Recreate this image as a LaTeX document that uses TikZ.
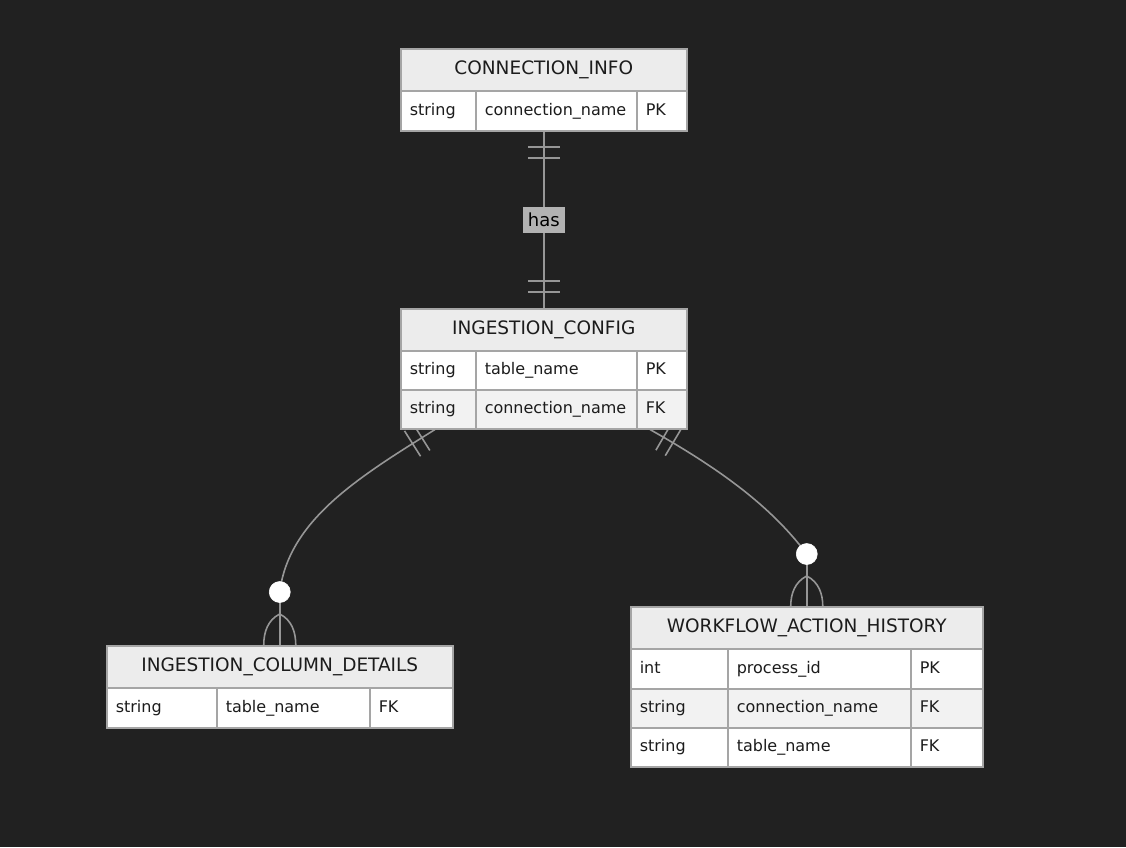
\documentclass[tikz,border=0pt]{standalone}
\usepackage{fontspec}
\setmainfont{DejaVu Sans}
\usetikzlibrary{decorations.markings,calc}

\definecolor{canvas}{RGB}{33,33,33}
\definecolor{hdrfill}{RGB}{236,236,236}
\definecolor{rowodd}{RGB}{255,255,255}
\definecolor{roweven}{RGB}{242,242,242}
\definecolor{boxline}{RGB}{165,165,165}
\definecolor{wire}{RGB}{150,150,150}
\definecolor{ink}{RGB}{28,28,28}
\definecolor{tagfill}{RGB}{178,178,178}

\pgfdeclarelayer{back}
\pgfdeclarelayer{wires}
\pgfsetlayers{back,wires,main}

\tikzset{
  hdr/.style={draw=boxline, fill=hdrfill, line width=1.5pt, anchor=north west,
    inner sep=0pt, minimum height=42pt, text=ink, text height=13.5pt, text depth=3.5pt,
    font=\fontsize{18.5}{20}\selectfont},
  cellbox/.style={draw=boxline, line width=1.5pt, anchor=north west,
    inner xsep=9pt, inner ysep=0pt, align=left, text=ink,
    text height=12pt, text depth=3.5pt,
    font=\fontsize{16}{18}\selectfont},
  wire/.style={draw=wire, line width=1.6pt},
  dot/.style={circle, fill=white, draw=white, line width=0.6pt,
    minimum size=21pt, inner sep=0pt},
  tag/.style={fill=tagfill, text=black, inner sep=0pt, minimum width=42pt,
    minimum height=26pt, font=\fontsize{18}{20}\selectfont},
  % two bars near the start of a path (exactly-one end)
  onestart/.style={postaction={decorate, decoration={markings,
    mark=at position 15.5pt with {\draw[wire] (0,-#1)--(0,#1);},
    mark=at position 26.5pt with {\draw[wire] (0,-#1)--(0,#1);}}}},
  % two bars near the end of a path
  oneend/.style={postaction={decorate, decoration={markings,
    mark=at position -16pt with {\draw[wire] (0,-#1)--(0,#1);},
    mark=at position -27pt with {\draw[wire] (0,-#1)--(0,#1);}}}},
}

% one table cell: name, x, y, text width, height, fill, text
\newcommand\ercell[7]{%
  \node[cellbox, fill=#6, text width=#4pt, minimum height=#5pt] (#1) at (#2,#3) {#7};}

\begin{document}
\begin{tikzpicture}[x=1pt,y=-1pt]
\useasboundingbox (0,0) rectangle (1126,847);
\begin{pgfonlayer}{back}
  \fill[canvas] (0,0) rectangle (1126,847);
\end{pgfonlayer}

% ---------- CONNECTION_INFO ----------
\node[hdr, minimum width=286pt] (ci) at (400,48) {CONNECTION\_INFO};
\ercell{ci-1t}{400}{90}{57}{40}{rowodd}{string}
\ercell{ci-1n}{475}{90}{143}{40}{rowodd}{connection\_name}
\ercell{ci-1k}{636}{90}{32}{40}{rowodd}{PK}

% ---------- INGESTION_CONFIG ----------
\node[hdr, minimum width=286pt] (ic) at (400,308) {INGESTION\_CONFIG};
\ercell{ic-1t}{400}{350}{57}{39}{rowodd}{string}
\ercell{ic-1n}{475}{350}{143}{39}{rowodd}{table\_name}
\ercell{ic-1k}{636}{350}{32}{39}{rowodd}{PK}
\ercell{ic-2t}{400}{389}{57}{39}{roweven}{string}
\ercell{ic-2n}{475}{389}{143}{39}{roweven}{connection\_name}
\ercell{ic-2k}{636}{389}{32}{39}{roweven}{FK}

% ---------- INGESTION_COLUMN_DETAILS ----------
\node[hdr, minimum width=346pt] (icd) at (106,645) {INGESTION\_COLUMN\_DETAILS};
\ercell{icd-1t}{106}{687}{92}{40}{rowodd}{string}
\ercell{icd-1n}{216}{687}{135}{40}{rowodd}{table\_name}
\ercell{icd-1k}{369}{687}{65}{40}{rowodd}{FK}

% ---------- WORKFLOW_ACTION_HISTORY ----------
\node[hdr, minimum width=352pt] (wah) at (630,606) {WORKFLOW\_ACTION\_HISTORY};
\ercell{wah-1t}{630}{648}{79}{40}{rowodd}{int}
\ercell{wah-1n}{727}{648}{165}{40}{rowodd}{process\_id}
\ercell{wah-1k}{910}{648}{54}{40}{rowodd}{PK}
\ercell{wah-2t}{630}{688}{79}{39}{roweven}{string}
\ercell{wah-2n}{727}{688}{165}{39}{roweven}{connection\_name}
\ercell{wah-2k}{910}{688}{54}{39}{roweven}{FK}
\ercell{wah-3t}{630}{727}{79}{39}{rowodd}{string}
\ercell{wah-3n}{727}{727}{165}{39}{rowodd}{table\_name}
\ercell{wah-3k}{910}{727}{54}{39}{rowodd}{FK}

% ---------- zero-or-many ends ----------
\node[dot] (lcirc) at ($(icd.north)+(0,-53)$) {};
\node[dot] (rcirc) at ($(wah.north)+(0,-52)$) {};

% ---------- relationships ----------
\begin{pgfonlayer}{wires}
  % CONNECTION_INFO ||--|| INGESTION_CONFIG
  \draw[wire, onestart=16pt, oneend=16pt] (ci-1t.south -| ci.south) -- (ic.north);

  % INGESTION_CONFIG ||--o{ INGESTION_COLUMN_DETAILS
  \draw[wire, onestart=15pt] ([xshift=35pt]ic-2t.south west)
    .. controls +(-76.3,47.7) and +(9,-72) .. (lcirc.center);
  \draw[wire] (lcirc.center) -- (icd.north);
  \draw[wire] ($(icd.north)+(0,-31)$) .. controls +(-12,6) and +(0,-13) .. ($(icd.north)+(-16,0)$);
  \draw[wire] ($(icd.north)+(0,-31)$) .. controls +(12,6) and +(0,-13) .. ($(icd.north)+(16,0)$);

  % INGESTION_CONFIG ||--o{ WORKFLOW_ACTION_HISTORY
  \draw[wire, onestart=15pt] ([xshift=14pt]ic-2k.south west)
    .. controls +(70,39.5) and +(-36,-48) .. (rcirc.center);
  \draw[wire] (rcirc.center) -- (wah.north);
  \draw[wire] ($(wah.north)+(0,-30)$) .. controls +(-12,6) and +(0,-12) .. ($(wah.north)+(-16,0)$);
  \draw[wire] ($(wah.north)+(0,-30)$) .. controls +(12,6) and +(0,-12) .. ($(wah.north)+(16,0)$);
\end{pgfonlayer}

\node[tag] (has) at ($(ci-1t.south -| ci.south)!0.5!(ic.north)$) {has};

\end{tikzpicture}
\end{document}
